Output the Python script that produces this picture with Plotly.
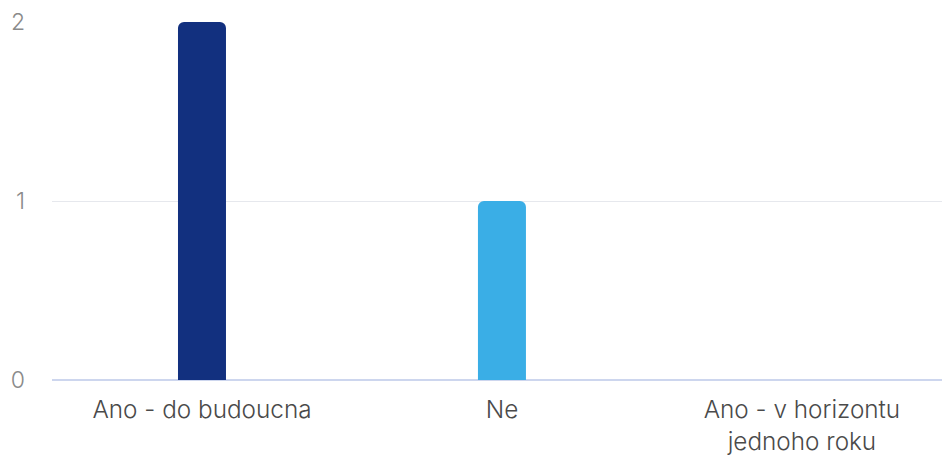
import plotly.graph_objects as go

categories = ["Ano - do budoucna", "Ne", "Ano - v horizontu<br>jednoho roku"]
values = [2, 1, 0]
bar_colors = ["#12307f", "#3aaee6", "#8fc8ee"]

fig = go.Figure(
    go.Bar(
        x=categories,
        y=values,
        marker=dict(color=bar_colors, line=dict(width=0)),
        width=0.16,
        hoverinfo="x+y",
    )
)

fig.update_layout(
    width=942,
    height=456,
    margin=dict(l=52, r=0, t=22, b=76),
    paper_bgcolor="white",
    plot_bgcolor="white",
    font=dict(family="Inter, Roboto, sans-serif", color="#555555"),
    showlegend=False,
    barcornerradius=6,
)

fig.update_xaxes(
    range=[-0.5, 2.467],
    showgrid=False,
    showline=False,
    zeroline=False,
    ticks="",
    tickfont=dict(size=24.3, color="#4a4a4a", weight=350),
    ticklabelstandoff=13,
)

fig.update_yaxes(
    range=[0, 2],
    tickvals=[0, 1, 2],
    showgrid=True,
    gridcolor="#e6e8ed",
    gridwidth=1,
    zeroline=True,
    zerolinecolor="#cdd6ee",
    zerolinewidth=2,
    showline=False,
    ticks="",
    tickfont=dict(size=23, color="#8a8a8a", weight=300),
    ticklabelstandoff=26,
)

fig.write_html("out.html")
